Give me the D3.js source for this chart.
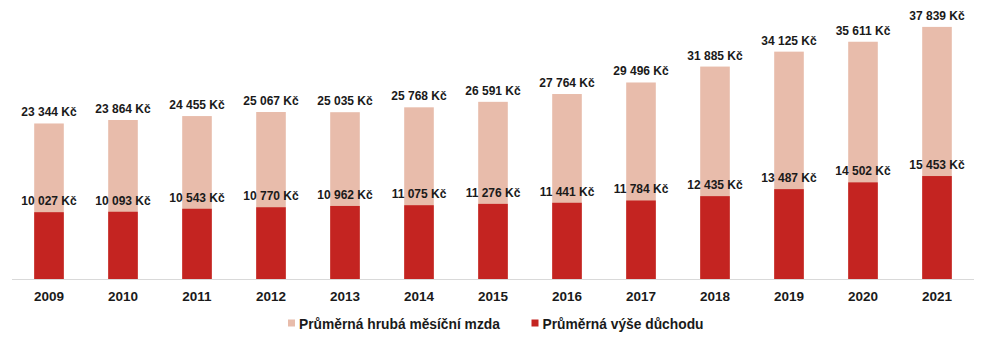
<!DOCTYPE html>
<html><head><meta charset="utf-8">
<script src="https://cdn.jsdelivr.net/npm/d3@7"></script>
<style>body{margin:0;background:#fff}svg{display:block}</style>
</head><body>
<script>
const years = ["2009","2010","2011","2012","2013","2014","2015","2016","2017","2018","2019","2020","2021"];
const wages = [23344,23864,24455,25067,25035,25768,26591,27764,29496,31885,34125,35611,37839];
const pensions = [10027,10093,10543,10770,10962,11075,11276,11441,11784,12435,13487,14502,15453];
const seriesNames = ["Průměrná hrubá měsíční mzda","Průměrná výše důchodu"];
const colors = ["#E8BCAB","#C42421"];

const W = 987, H = 342;
const svg = d3.select("body").append("svg").attr("width", W).attr("height", H);
const font = "'Liberation Sans', Arial, sans-serif";

const x = d3.scaleBand().domain(years).range([12, 974]).paddingInner(0.6).paddingOuter(0.3);
const y = d3.scaleLinear().domain([0, 40000]).range([279, 12.5]);

const fmt = v => d3.format(",")(v).replace(/,/g, " ") + " Kč";

// wage bars
svg.append("g").selectAll("rect").data(years).join("rect")
  .attr("x", d => x(d)).attr("width", x.bandwidth())
  .attr("y", (d,i) => y(wages[i])).attr("height", (d,i) => y(0) - y(wages[i]))
  .attr("fill", colors[0]);
// pension bars
svg.append("g").selectAll("rect").data(years).join("rect")
  .attr("x", d => x(d)).attr("width", x.bandwidth())
  .attr("y", (d,i) => y(pensions[i])).attr("height", (d,i) => y(0) - y(pensions[i]))
  .attr("fill", colors[1]);

// axis line
svg.append("line").attr("x1", 12).attr("x2", 974).attr("y1", 279.5).attr("y2", 279.5)
  .attr("stroke", "#d9d9d9").attr("stroke-width", 1);

// labels
const lbl = (vals) => svg.append("g").selectAll("text").data(years).join("text")
  .attr("x", d => x(d) + x.bandwidth()/2)
  .attr("y", (d,i) => y(vals[i]) - 7)
  .attr("text-anchor", "middle")
  .attr("font-family", font).attr("font-weight", "bold").attr("font-size", 12)
  .attr("fill", "#1a1a1a")
  .text((d,i) => fmt(vals[i]));
lbl(wages); lbl(pensions);

// x tick labels
svg.append("g").selectAll("text").data(years).join("text")
  .attr("x", d => x(d) + x.bandwidth()/2).attr("y", 300.5)
  .attr("text-anchor", "middle")
  .attr("font-family", font).attr("font-weight", "bold").attr("font-size", 13.5)
  .attr("fill", "#1a1a1a").text(d => d);

// legend
const legX = [288, 531.5];
seriesNames.forEach((n, i) => {
  svg.append("rect").attr("x", legX[i]).attr("y", 319.5).attr("width", 7).attr("height", 7).attr("fill", colors[i]);
  svg.append("text").attr("x", legX[i] + 11).attr("y", 328.5)
    .attr("font-family", font).attr("font-weight", "bold").attr("font-size", 13.8)
    .attr("fill", "#1a1a1a").text(n);
});
</script>
</body></html>
